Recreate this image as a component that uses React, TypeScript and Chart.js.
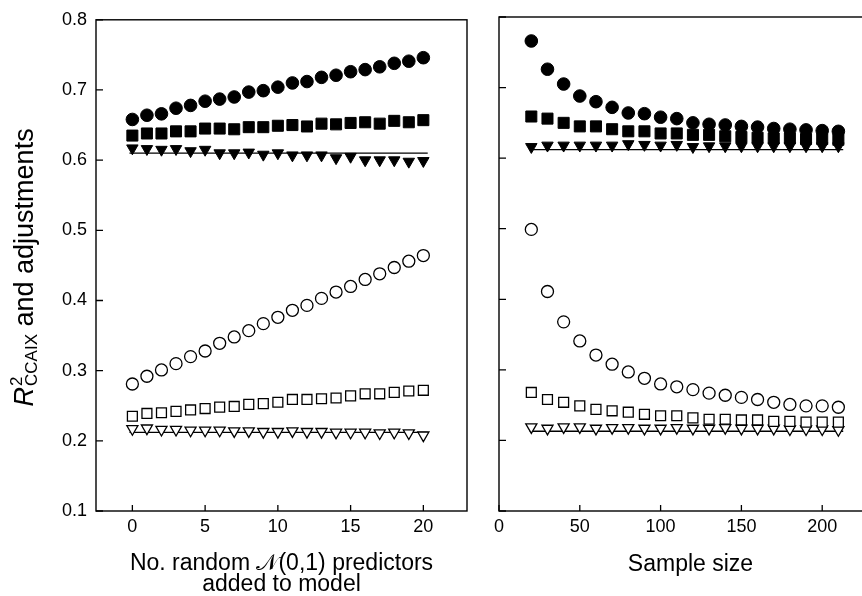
import React, { useEffect, useRef } from "react";
import { Chart, registerables } from "chart.js";
Chart.register(...registerables);

// ---------- data ----------
const predictorsX = [0, 1, 2, 3, 4, 5, 6, 7, 8, 9, 10, 11, 12, 13, 14, 15, 16, 17, 18, 19, 20];
const leftFilledCircle = [0.658, 0.664, 0.666, 0.674, 0.678, 0.684, 0.687, 0.69, 0.697, 0.699, 0.704, 0.71, 0.712, 0.718, 0.721, 0.726, 0.729, 0.733, 0.738, 0.741, 0.746];
const leftFilledSquare = [0.635, 0.638, 0.638, 0.641, 0.641, 0.645, 0.645, 0.644, 0.647, 0.647, 0.649, 0.65, 0.648, 0.652, 0.651, 0.653, 0.654, 0.652, 0.656, 0.654, 0.657];
const leftFilledTriangle = [0.617, 0.616, 0.615, 0.616, 0.613, 0.615, 0.61, 0.61, 0.611, 0.608, 0.61, 0.607, 0.607, 0.607, 0.603, 0.605, 0.6, 0.6, 0.6, 0.598, 0.599];
const leftOpenCircle = [0.281, 0.292, 0.301, 0.31, 0.32, 0.328, 0.339, 0.348, 0.357, 0.367, 0.376, 0.386, 0.393, 0.403, 0.412, 0.42, 0.43, 0.438, 0.447, 0.456, 0.464];
const leftOpenSquare = [0.235, 0.239, 0.24, 0.242, 0.244, 0.246, 0.248, 0.249, 0.252, 0.253, 0.255, 0.259, 0.259, 0.26, 0.261, 0.264, 0.267, 0.267, 0.269, 0.271, 0.272];
const leftOpenTriangle = [0.217, 0.218, 0.216, 0.216, 0.215, 0.215, 0.215, 0.214, 0.214, 0.213, 0.213, 0.214, 0.213, 0.213, 0.212, 0.212, 0.212, 0.211, 0.212, 0.211, 0.208];
const leftRefLineX = [-0.2, 20.3];
const leftUpperRefY = [0.61, 0.61];
const leftLowerRefY = [0.212, 0.212];

const sampleSizeX = [20, 30, 40, 50, 60, 70, 80, 90, 100, 110, 120, 130, 140, 150, 160, 170, 180, 190, 200, 210];
const rightFilledCircle = [0.766, 0.726, 0.705, 0.688, 0.68, 0.672, 0.664, 0.663, 0.658, 0.656, 0.65, 0.648, 0.647, 0.645, 0.644, 0.642, 0.641, 0.64, 0.639, 0.638];
const rightFilledSquare = [0.659, 0.656, 0.65, 0.645, 0.645, 0.641, 0.638, 0.638, 0.635, 0.635, 0.633, 0.633, 0.631, 0.63, 0.629, 0.628, 0.628, 0.627, 0.627, 0.626];
const rightFilledTriangle = [0.616, 0.618, 0.618, 0.618, 0.618, 0.618, 0.62, 0.619, 0.618, 0.619, 0.616, 0.617, 0.617, 0.617, 0.617, 0.617, 0.617, 0.617, 0.617, 0.617];
const rightOpenCircle = [0.499, 0.411, 0.368, 0.341, 0.321, 0.308, 0.297, 0.288, 0.28, 0.276, 0.272, 0.267, 0.264, 0.261, 0.258, 0.254, 0.251, 0.249, 0.249, 0.247];
const rightOpenSquare = [0.268, 0.258, 0.254, 0.249, 0.244, 0.242, 0.24, 0.237, 0.235, 0.235, 0.232, 0.23, 0.23, 0.229, 0.229, 0.227, 0.227, 0.226, 0.226, 0.226];
const rightOpenTriangle = [0.219, 0.217, 0.219, 0.219, 0.217, 0.218, 0.218, 0.217, 0.217, 0.218, 0.217, 0.217, 0.218, 0.217, 0.217, 0.217, 0.216, 0.216, 0.216, 0.215];
const rightRefLineX = [19, 213];
const rightUpperRefY = [0.612, 0.612];
const rightLowerRefY = [0.213, 0.213];

const yTickValues = [0.1, 0.2, 0.3, 0.4, 0.5, 0.6, 0.7, 0.8];
const leftXTickValues = [0, 5, 10, 15, 20];
const rightXTickValues = [0, 50, 100, 150, 200];

const leftXTitle = ["No. random \u{1D4A9}(0,1) predictors", "added to model"];
const rightXTitle = "Sample size";
const yTitleMain = "R";
const yTitleSup = "2";
const yTitleSub = "CCAIX";
const yTitleRest = " and adjustments";

// ---------- helpers ----------
const FAMILY = '"Liberation Sans", Arial, Helvetica, sans-serif';

const pts = (xs: number[], ys: number[]) => xs.map((x, i) => ({ x, y: ys[i] }));

function markerSet(xs: number[], ys: number[], style: string, filled: boolean) {
  const radius: Record<string, number> = filled
    ? { circle: 6.3, rect: 7.8, triangle: 6.6 }
    : { circle: 6.0, rect: 7.0, triangle: 6.4 };
  return {
    data: pts(xs, ys),
    showLine: false,
    pointStyle: style,
    pointRotation: style === "triangle" ? 180 : 0,
    pointRadius: radius[style],
    pointHoverRadius: radius[style],
    pointBackgroundColor: filled ? "#000" : "#fff",
    pointBorderColor: "#000",
    pointBorderWidth: filled ? 1 : 1.3,
  };
}

function lineSet(xs: number[], ys: number[]) {
  return {
    data: pts(xs, ys),
    showLine: true,
    borderColor: "#000",
    borderWidth: 1.3,
    pointRadius: 0,
    pointHoverRadius: 0,
    fill: false,
  };
}

const framePlugin = {
  id: "frameTicks",
  afterDraw(chart: any) {
    const { ctx, chartArea } = chart;
    const { left, top, right, bottom } = chartArea;
    const xs = chart.scales.x;
    const ys = chart.scales.y;
    ctx.save();
    ctx.strokeStyle = "#000";
    ctx.lineWidth = 1.4;
    ctx.strokeRect(left, top, right - left, bottom - top);
    ctx.lineWidth = 1.3;
    ctx.beginPath();
    xs.ticks.forEach((t: any) => {
      const px = xs.getPixelForValue(t.value);
      ctx.moveTo(px, bottom);
      ctx.lineTo(px, bottom - 6);
    });
    ys.ticks.forEach((t: any) => {
      const py = ys.getPixelForValue(t.value);
      ctx.moveTo(left, py);
      ctx.lineTo(left + 7, py);
    });
    ctx.stroke();
    ctx.restore();
  },
};

const yTitlePlugin = {
  id: "yTitle",
  afterDraw(chart: any) {
    const { ctx, chartArea } = chart;
    const cy = (chartArea.top + chartArea.bottom) / 2 + 2;
    const F = 27;
    const small = Math.round(F * 0.62);
    ctx.save();
    ctx.translate(23, cy);
    ctx.rotate(-Math.PI / 2);
    ctx.fillStyle = "#000";
    ctx.textBaseline = "alphabetic";
    ctx.textAlign = "left";
    ctx.font = `italic ${F}px ${FAMILY}`;
    const wR = ctx.measureText(yTitleMain).width;
    ctx.font = `${small}px ${FAMILY}`;
    const wSub = Math.max(ctx.measureText(yTitleSup).width, ctx.measureText(yTitleSub).width);
    ctx.font = `${F}px ${FAMILY}`;
    const wRest = ctx.measureText(yTitleRest).width;
    const total = wR + 1 + wSub + wRest;
    let x0 = -total / 2;
    const b = 10;
    ctx.font = `italic ${F}px ${FAMILY}`;
    ctx.fillText(yTitleMain, x0, b);
    x0 += wR + 1;
    ctx.font = `${small}px ${FAMILY}`;
    ctx.fillText(yTitleSup, x0, b - F * 0.42);
    ctx.fillText(yTitleSub, x0, b + F * 0.16);
    x0 += wSub;
    ctx.font = `${F}px ${FAMILY}`;
    ctx.fillText(yTitleRest, x0, b);
    ctx.restore();
  },
};

function makeConfig(opts: {
  datasets: any[];
  xMin: number;
  xMax: number;
  xTicks: number[];
  title: string | string[];
  titlePadBottom: number;
  yAxisWidth: number;
  showYLabels: boolean;
  padRight: number;
  plugins: any[];
}) {
  return {
    type: "scatter",
    data: { datasets: opts.datasets },
    plugins: opts.plugins,
    options: {
      responsive: false,
      animation: false,
      events: [],
      devicePixelRatio: 1,
      layout: { padding: { top: 17, right: opts.padRight, bottom: 0, left: 0 } },
      plugins: { legend: { display: false }, tooltip: { enabled: false } },
      scales: {
        x: {
          type: "linear",
          min: opts.xMin,
          max: opts.xMax,
          grid: { display: false, drawTicks: false },
          border: { display: false },
          afterBuildTicks: (s: any) => {
            s.ticks = opts.xTicks.map((v) => ({ value: v }));
          },
          afterFit: (s: any) => {
            s.height = 85;
          },
          ticks: {
            color: "#000",
            font: { family: FAMILY, size: 18 },
            padding: 5,
            maxRotation: 0,
            callback: (v: any) => String(v),
          },
          title: {
            display: true,
            text: opts.title,
            color: "#000",
            font: { family: FAMILY, size: 23, lineHeight: 0.9 },
            padding: { top: 0, bottom: opts.titlePadBottom },
          },
        },
        y: {
          type: "linear",
          min: 0.1,
          max: 0.8,
          grid: { display: false, drawTicks: false },
          border: { display: false },
          afterBuildTicks: (s: any) => {
            s.ticks = yTickValues.map((v) => ({ value: v }));
          },
          afterFit: (s: any) => {
            s.width = opts.yAxisWidth;
          },
          ticks: {
            display: opts.showYLabels,
            color: "#000",
            font: { family: FAMILY, size: 18 },
            padding: 9,
            callback: (v: any) => Number(v).toFixed(1),
          },
        },
      },
    },
  } as any;
}

function Panel(props: { config: any; width: number; height: number; left: number }) {
  const ref = useRef<HTMLCanvasElement | null>(null);
  useEffect(() => {
    if (!ref.current) return;
    const chart = new Chart(ref.current, props.config);
    return () => chart.destroy();
  }, []);
  return (
    <canvas
      ref={ref}
      width={props.width}
      height={props.height}
      style={{ position: "absolute", left: props.left, top: 0, width: props.width, height: props.height, display: "block" }}
    />
  );
}

export default function App() {
  const leftDatasets = [
    markerSet(predictorsX, leftFilledCircle, "circle", true),
    markerSet(predictorsX, leftFilledSquare, "rect", true),
    markerSet(predictorsX, leftFilledTriangle, "triangle", true),
    markerSet(predictorsX, leftOpenCircle, "circle", false),
    markerSet(predictorsX, leftOpenSquare, "rect", false),
    markerSet(predictorsX, leftOpenTriangle, "triangle", false),
    lineSet(leftRefLineX, leftUpperRefY),
    lineSet(leftRefLineX, leftLowerRefY),
  ];
  const rightDatasets = [
    markerSet(sampleSizeX, rightFilledCircle, "circle", true),
    markerSet(sampleSizeX, rightFilledSquare, "rect", true),
    markerSet(sampleSizeX, rightFilledTriangle, "triangle", true),
    markerSet(sampleSizeX, rightOpenCircle, "circle", false),
    markerSet(sampleSizeX, rightOpenSquare, "rect", false),
    markerSet(sampleSizeX, rightOpenTriangle, "triangle", false),
    lineSet(rightRefLineX, rightUpperRefY),
    lineSet(rightRefLineX, rightLowerRefY),
  ];

  const leftConfig = makeConfig({
    datasets: leftDatasets,
    xMin: -2.5,
    xMax: 23,
    xTicks: leftXTickValues,
    title: leftXTitle,
    titlePadBottom: 1,
    yAxisWidth: 96,
    showYLabels: true,
    padRight: 13,
    plugins: [framePlugin, yTitlePlugin],
  });
  const rightConfig = makeConfig({
    datasets: rightDatasets,
    xMin: 0,
    xMax: 237,
    xTicks: rightXTickValues,
    title: rightXTitle,
    titlePadBottom: 21,
    yAxisWidth: 20,
    showYLabels: false,
    padRight: 17,
    plugins: [framePlugin],
  });

  return (
    <div style={{ position: "fixed", left: 0, top: 0, width: 862, height: 596, overflow: "hidden", background: "#fff" }}>
      <Panel config={leftConfig} width={480} height={596} left={0} />
      <Panel config={rightConfig} width={420} height={596} left={479} />
    </div>
  );
}
